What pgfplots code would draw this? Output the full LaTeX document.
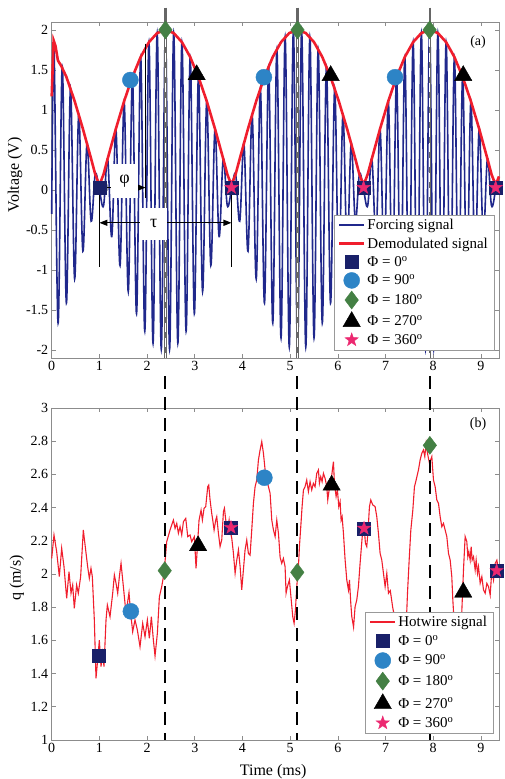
\documentclass[border=0pt]{standalone}
\usepackage{fontspec}
\setmainfont{Liberation Serif}
\usepackage{pgfplots}
\pgfplotsset{compat=1.18}
\usetikzlibrary{arrows.meta}

\definecolor{forceblue}{RGB}{32,40,140}
\definecolor{demred}{RGB}{240,30,45}
\definecolor{sqnavy}{RGB}{25,32,105}
\definecolor{circblue}{RGB}{45,132,198}
\definecolor{dgreen}{RGB}{68,128,68}
\definecolor{starpink}{RGB}{236,40,112}

\pgfdeclareplotmark{fstar}{%
  \pgfpathmoveto{\pgfpointpolar{90}{\pgfplotmarksize}}%
  \pgfpathlineto{\pgfpointpolar{126}{0.4\pgfplotmarksize}}%
  \pgfpathlineto{\pgfpointpolar{162}{\pgfplotmarksize}}%
  \pgfpathlineto{\pgfpointpolar{198}{0.4\pgfplotmarksize}}%
  \pgfpathlineto{\pgfpointpolar{234}{\pgfplotmarksize}}%
  \pgfpathlineto{\pgfpointpolar{270}{0.4\pgfplotmarksize}}%
  \pgfpathlineto{\pgfpointpolar{306}{\pgfplotmarksize}}%
  \pgfpathlineto{\pgfpointpolar{342}{0.4\pgfplotmarksize}}%
  \pgfpathlineto{\pgfpointpolar{18}{\pgfplotmarksize}}%
  \pgfpathlineto{\pgfpointpolar{54}{0.4\pgfplotmarksize}}%
  \pgfpathclose
  \pgfusepathqfillstroke
}

\pgfplotsset{
  myleg/.style={legend image code/.code={\draw[mark repeat=2,mark phase=2,##1] plot coordinates {(0pt,0pt)(12.5pt,0pt)(25pt,0pt)};}},
  common/.style={
    scale only axis, width=447.3pt, xmin=0, xmax=9.38, clip=false,
    axis line style={black!45, line width=0.6pt},
    major tick style={black!45, line width=0.6pt},
    major tick length=4pt, tick align=inside,
    xtick={0,1,2,3,4,5,6,7,8,9},
    ticklabel style={font=\fontsize{14}{16}\selectfont},
    /pgf/number format/assume math mode=true,
    label style={font=\fontsize{16}{18}\selectfont},
    legend cell align=left,
  },
  sqm/.style={only marks, myleg, mark=square*, mark size=6.5pt, mark options={draw=sqnavy, fill=sqnavy}},
  cim/.style={only marks, myleg, mark=*, mark size=8pt, mark options={draw=circblue, fill=circblue}},
  dim/.style={only marks, myleg, mark=diamond*, mark size=9pt, mark options={draw=dgreen, fill=dgreen}},
  trm/.style={only marks, myleg, mark=triangle*, mark size=10pt, mark options={draw=black, fill=black}},
  stm/.style={only marks, myleg, mark=fstar, mark size=7pt, mark options={draw=starpink, fill=starpink}},
}

\begin{document}
\begin{tikzpicture}
\useasboundingbox (0,0) rectangle (504pt,779pt);

% ---------------- panel (a) ----------------
\begin{axis}[common,
  at={(51.7pt,421pt)}, anchor=south west, height=336pt,
  ymin=-2.1, ymax=2.1,
  ytick={-2,-1.5,-1,-0.5,0,0.5,1,1.5,2},
  ylabel={Voltage (V)},
  ylabel style={at={(axis description cs:-0.082,0.545)}, anchor=center},
  legend style={at={(axis description cs:0.989,0.024)}, anchor=south east,
    draw=black!40, fill=white, font=\fontsize{15}{17}\selectfont,
    inner xsep=4pt, inner ysep=2pt, row sep=2.6pt},
]
\addplot[forceblue, line width=1.6pt, smooth, tension=0.6,
  legend image code/.code={\draw[forceblue, line width=1.5pt] (0pt,0pt) -- (25pt,0pt);}] coordinates {
(0,-0.30) (0.048,1.764) (0.134,-1.663) (0.221,1.546) (0.308,-1.414) (0.394,1.269)
(0.481,-1.111) (0.567,0.943) (0.654,-0.765) (0.740,0.581) (0.827,-0.390) (0.913,0.196)
(1.000,0) (1.087,-0.196) (1.173,0.390) (1.260,-0.581) (1.346,0.765) (1.433,-0.943)
(1.519,1.111) (1.606,-1.269) (1.693,1.414) (1.779,-1.546) (1.866,1.663) (1.952,-1.764)
(2.039,1.848) (2.125,-1.914) (2.212,1.962) (2.298,-1.990) (2.385,2.000) (2.472,-1.990)
(2.558,1.962) (2.645,-1.914) (2.731,1.848) (2.818,-1.764) (2.904,1.663) (2.991,-1.546)
(3.077,1.414) (3.164,-1.269) (3.251,1.111) (3.337,-0.943) (3.424,0.765) (3.510,-0.581)
(3.597,0.390) (3.683,-0.196) (3.770,0) (3.856,0.196) (3.943,-0.390) (4.030,0.581)
(4.116,-0.765) (4.203,0.943) (4.289,-1.111) (4.376,1.269) (4.462,-1.414) (4.549,1.546)
(4.636,-1.663) (4.722,1.764) (4.809,-1.848) (4.895,1.914) (4.982,-1.962) (5.068,1.990)
(5.155,-2.000) (5.241,1.990) (5.328,-1.962) (5.414,1.914) (5.501,-1.848) (5.588,1.764)
(5.674,-1.663) (5.761,1.546) (5.847,-1.414) (5.934,1.269) (6.020,-1.111) (6.107,0.943)
(6.194,-0.765) (6.280,0.581) (6.367,-0.390) (6.453,0.196) (6.540,0) (6.626,-0.196)
(6.713,0.390) (6.800,-0.581) (6.886,0.765) (6.973,-0.943) (7.059,1.111) (7.146,-1.269)
(7.232,1.414) (7.319,-1.546) (7.405,1.663) (7.492,-1.764) (7.579,1.848) (7.665,-1.914)
(7.752,1.962) (7.838,-1.990) (7.925,2.000) (8.011,-1.990) (8.098,1.962) (8.185,-1.914)
(8.271,1.848) (8.358,-1.764) (8.444,1.663) (8.531,-1.546) (8.617,1.414) (8.704,-1.269)
(8.790,1.111) (8.877,-0.943) (8.964,0.765) (9.050,-0.581) (9.137,0.390) (9.223,-0.196)
(9.310,0) (9.380,0.160)
};
\addlegendentry{Forcing signal}
\addplot[demred, line width=2.6pt,
  legend image code/.code={\draw[demred, line width=2.6pt] (0pt,0pt) -- (25pt,0pt);}] coordinates {
(0,1.17) (0.04,1.87) (0.08,1.80) (0.13,1.62) (0.20,1.55) (0.308,1.414) (0.481,1.111)
(0.654,0.765) (0.827,0.390) (0.913,0.196) (1.000,0.06) (1.087,0.196) (1.173,0.390)
(1.346,0.765) (1.519,1.111) (1.693,1.414) (1.866,1.663) (2.039,1.848) (2.212,1.962)
(2.385,2.000) (2.558,1.962) (2.731,1.848) (2.904,1.663) (3.077,1.414) (3.251,1.111)
(3.424,0.765) (3.597,0.390) (3.683,0.196) (3.770,0.06) (3.856,0.196) (3.943,0.390)
(4.116,0.765) (4.289,1.111) (4.462,1.414) (4.636,1.663) (4.809,1.848) (4.982,1.962)
(5.155,2.000) (5.328,1.962) (5.501,1.848) (5.674,1.663) (5.847,1.414) (6.020,1.111)
(6.194,0.765) (6.367,0.390) (6.453,0.196) (6.540,0.06) (6.626,0.196) (6.713,0.390)
(6.886,0.765) (7.059,1.111) (7.232,1.414) (7.405,1.663) (7.579,1.848) (7.752,1.962)
(7.925,2.000) (8.098,1.962) (8.271,1.848) (8.444,1.663) (8.617,1.414) (8.790,1.111)
(8.964,0.765) (9.137,0.390) (9.223,0.196) (9.310,0.06) (9.380,0.17)
};
\addlegendentry{Demodulated signal}
% peak lines
\pgfplotsinvokeforeach{2.385,5.155,7.925}{
  \draw[black!60, line width=2.2pt] (axis cs:#1,2.28) -- (axis cs:#1,-2.1);
  \draw[white, line width=0.8pt, dash pattern=on 9pt off 6pt] (axis cs:#1,1.9) -- (axis cs:#1,-2.1);
}
% phase annotations
\draw[black, line width=1.2pt] (axis cs:1.0,0) -- (axis cs:1.0,-0.96);
\draw[black, line width=1.2pt] (axis cs:3.77,0) -- (axis cs:3.77,-0.96);
\draw[black, line width=1.2pt] (axis cs:1.97,1.83) -- (axis cs:1.97,-0.1);
\draw[black, line width=1.2pt, {Triangle[length=8pt,width=6pt]}-{Triangle[length=8pt,width=6pt]}]
  (axis cs:1.0,0.03) -- (axis cs:1.97,0.03);
\draw[black, line width=1.2pt, {Triangle[length=8pt,width=6pt]}-{Triangle[length=8pt,width=6pt]}]
  (axis cs:1.0,-0.41) -- (axis cs:3.77,-0.41);
\node[fill=white, inner sep=0pt, minimum width=27pt, minimum height=34pt, font=\fontsize{18}{20}\selectfont] at (axis cs:1.53,0.11) {φ};
\node[fill=white, inner sep=0pt, minimum width=27pt, minimum height=32pt, font=\fontsize{18}{20}\selectfont] at (axis cs:2.14,-0.42) {τ};
\node[font=\fontsize{14}{16}\selectfont] at (axis cs:8.94,1.85) {(a)};
% markers
\addplot[sqm] coordinates {(1.0,0.03) (3.77,0.03) (6.54,0.03) (9.31,0.03)};
\addlegendentry{Φ = 0\textsuperscript{o}}
\addplot[cim] coordinates {(1.65,1.375) (4.45,1.41) (7.2,1.41)};
\addlegendentry{Φ = 90\textsuperscript{o}}
\addplot[dim] coordinates {(2.385,2.0) (5.155,2.0) (7.925,2.0)};
\addlegendentry{Φ = 180\textsuperscript{o}}
\addplot[trm] coordinates {(3.04,1.44) (5.85,1.43) (8.63,1.43)};
\addlegendentry{Φ = 270\textsuperscript{o}}
\addplot[stm] coordinates {(3.77,0.03) (6.54,0.03) (9.31,0.03)};
\addlegendentry{Φ = 360\textsuperscript{o}}
\end{axis}

% ---------------- panel (b) ----------------
\begin{axis}[common,
  at={(51.7pt,39pt)}, anchor=south west, height=332pt,
  ymin=1, ymax=3,
  ytick={1,1.2,1.4,1.6,1.8,2,2.2,2.4,2.6,2.8,3},
  ylabel={q (m/s)},
  ylabel style={at={(axis description cs:-0.078,0.488)}, anchor=center},
  xlabel={Time (ms)},
  xlabel style={at={(axis description cs:0.495,-0.094)}, anchor=center},
  legend style={at={(axis description cs:0.987,0.021)}, anchor=south east,
    draw=black!40, fill=white, font=\fontsize{15}{17}\selectfont,
    inner xsep=4pt, inner ysep=2pt, row sep=3.6pt},
]
\addplot[demred, line width=1.1pt,
  legend image code/.code={\draw[demred, line width=2pt] (0pt,0pt) -- (25pt,0pt);}] coordinates {
(0.000,2.094) (0.048,2.235) (0.104,2.135) (0.160,1.984) (0.209,2.155) (0.258,2.044)
(0.314,1.853) (0.363,2.014) (0.405,1.884) (0.440,1.934) (0.474,1.793) (0.523,1.934)
(0.558,1.884) (0.607,1.984) (0.663,2.265) (0.712,2.145) (0.754,2.044) (0.789,1.974)
(0.824,2.034) (0.852,1.984) (0.894,1.723) (0.929,1.371) (0.964,1.482) (0.999,1.602)
(1.034,1.442) (1.069,1.522) (1.097,1.442) (1.139,1.723) (1.167,1.813) (1.223,1.743)
(1.279,1.884) (1.314,1.994) (1.349,1.944) (1.384,1.884) (1.419,1.984) (1.454,2.064)
(1.503,1.924) (1.558,1.763) (1.621,1.888) (1.656,1.763) (1.698,1.653) (1.747,1.723)
(1.796,1.663) (1.852,1.562) (1.908,1.703) (1.957,1.622) (2.006,1.723) (2.048,1.612)
(2.090,1.743) (2.132,1.602) (2.167,1.506) (2.216,1.643) (2.258,1.863) (2.307,1.924)
(2.356,2.004) (2.412,2.195) (2.482,2.265) (2.552,2.325) (2.587,2.275) (2.622,2.305)
(2.657,2.245) (2.692,2.285) (2.727,2.235) (2.762,2.315) (2.811,2.335) (2.853,2.225)
(2.901,2.235) (2.936,2.195) (2.992,2.225) (3.027,2.034) (3.055,2.165) (3.090,2.325)
(3.132,2.385) (3.160,2.325) (3.195,2.396) (3.230,2.406) (3.272,2.526) (3.293,2.536)
(3.321,2.446) (3.356,2.365) (3.377,2.325) (3.405,2.265) (3.440,2.325) (3.461,2.345)
(3.496,2.245) (3.531,2.165) (3.566,2.205) (3.601,2.375) (3.622,2.396) (3.650,2.325)
(3.685,2.265) (3.720,2.325) (3.741,2.265) (3.776,2.215) (3.811,2.124) (3.846,2.004)
(3.881,2.084) (3.916,2.145) (3.951,2.044) (3.985,1.904) (4.020,2.024) (4.055,2.145)
(4.090,2.205) (4.125,2.124) (4.160,2.114) (4.195,2.265) (4.230,2.426) (4.265,2.526)
(4.300,2.566) (4.335,2.687) (4.370,2.747) (4.405,2.797) (4.440,2.727) (4.475,2.627)
(4.510,2.566) (4.545,2.526) (4.580,2.486) (4.615,2.325) (4.650,2.265) (4.685,2.225)
(4.720,2.325) (4.755,2.245) (4.790,2.100) (4.824,2.064) (4.859,2.094) (4.894,2.044)
(4.915,1.884) (4.943,1.924) (4.985,1.964) (5.020,1.853) (5.055,1.743) (5.083,1.703)
(5.111,1.783) (5.139,1.924) (5.174,2.044) (5.195,2.165) (5.223,2.285) (5.251,2.406)
(5.279,2.506) (5.313,2.526) (5.348,2.566) (5.383,2.496) (5.418,2.556) (5.453,2.506)
(5.488,2.546) (5.523,2.526) (5.558,2.606) (5.593,2.627) (5.614,2.546) (5.642,2.586)
(5.670,2.556) (5.698,2.606) (5.733,2.576) (5.768,2.526) (5.789,2.446) (5.817,2.506)
(5.838,2.526) (5.873,2.596) (5.908,2.677) (5.929,2.546) (5.964,2.466) (5.992,2.506)
(6.020,2.406) (6.048,2.436) (6.069,2.325) (6.090,2.345) (6.118,2.245) (6.153,2.084)
(6.188,1.964) (6.223,1.904) (6.244,1.964) (6.272,1.823) (6.293,1.743) (6.330,1.680)
(6.362,1.803) (6.397,1.843) (6.432,1.924) (6.467,2.064) (6.495,2.165) (6.523,2.265)
(6.551,2.285) (6.579,2.185) (6.607,2.165) (6.635,2.265) (6.663,2.406) (6.691,2.446)
(6.733,2.416) (6.782,2.406) (6.817,2.345) (6.852,2.245) (6.887,2.124) (6.922,2.084)
(6.957,2.004) (6.992,1.924) (7.027,2.004) (7.062,1.884) (7.100,1.900) (7.150,1.800)
(7.190,1.740) (7.250,1.620) (7.400,1.620) (7.447,1.783) (7.461,1.884) (7.496,2.084)
(7.531,2.265) (7.573,2.386) (7.607,2.526) (7.642,2.566) (7.691,2.627) (7.726,2.687)
(7.761,2.727) (7.796,2.747) (7.824,2.707) (7.852,2.787) (7.880,2.727) (7.922,2.667)
(7.971,2.707) (8.006,2.566) (8.041,2.526) (8.076,2.446) (8.111,2.426) (8.146,2.345)
(8.181,2.285) (8.216,2.305) (8.251,2.265) (8.286,2.225) (8.321,2.124) (8.356,2.084)
(8.390,1.984) (8.412,1.843) (8.426,1.773) (8.500,1.650) (8.570,1.680) (8.600,1.773)
(8.635,2.024) (8.670,2.225) (8.705,2.195) (8.726,2.104) (8.747,2.134) (8.775,2.084)
(8.796,2.165) (8.817,2.084) (8.845,2.104) (8.880,2.024) (8.901,2.084) (8.929,2.004)
(8.950,2.044) (8.985,1.944) (9.020,1.984) (9.055,1.904) (9.090,1.884) (9.125,1.944)
(9.160,1.924) (9.195,1.873) (9.230,2.024) (9.265,1.964) (9.300,2.064) (9.335,2.084)
(9.370,2.024)
};
\addlegendentry{Hotwire signal}
\pgfplotsinvokeforeach{2.38,5.15,7.93}{
  \draw[black, line width=1.8pt, dash pattern=on 13pt off 8pt] (axis cs:#1,3.19) -- (axis cs:#1,1.0);
}
\node[font=\fontsize{14}{16}\selectfont] at (axis cs:8.94,2.9) {(b)};
\addplot[sqm] coordinates {(0.98,1.51) (3.76,2.28) (6.55,2.275) (9.33,2.02)};
\addlegendentry{Φ = 0\textsuperscript{o}}
\addplot[cim] coordinates {(1.66,1.775) (4.46,2.58)};
\addlegendentry{Φ = 90\textsuperscript{o}}
\addplot[dim] coordinates {(2.37,2.02) (5.15,2.01) (7.93,2.775)};
\addlegendentry{Φ = 180\textsuperscript{o}}
\addplot[trm] coordinates {(3.07,2.17) (5.87,2.535) (8.63,1.89)};
\addlegendentry{Φ = 270\textsuperscript{o}}
\addplot[stm] coordinates {(3.76,2.28) (6.55,2.275) (9.33,2.02)};
\addlegendentry{Φ = 360\textsuperscript{o}}
\end{axis}
\end{tikzpicture}
\end{document}
